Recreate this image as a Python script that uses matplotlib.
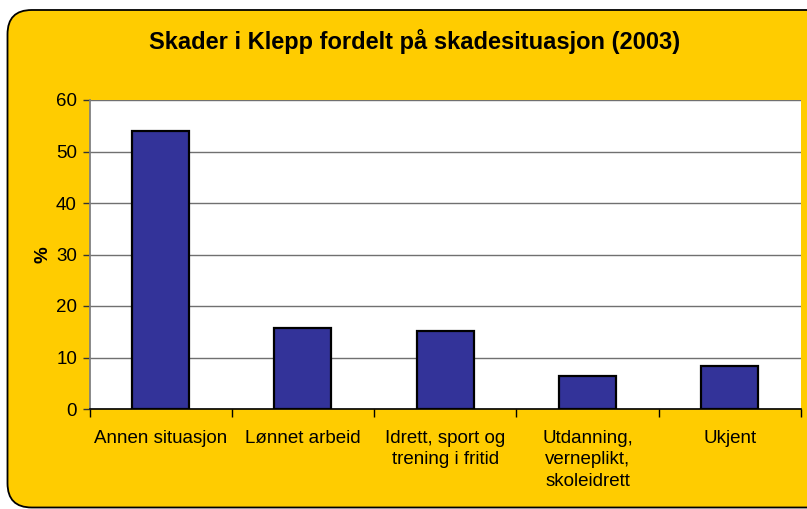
import matplotlib
matplotlib.use("Agg")
import matplotlib.pyplot as plt
from matplotlib.patches import FancyBboxPatch
import numpy as np

# data
categories = ["Annen situasjon", "Lønnet arbeid", "Idrett, sport og\ntrening i fritid",
              "Utdanning,\nverneplikt,\nskoleidrett", "Ukjent"]
values = [54.0, 15.7, 15.2, 6.4, 8.4]
yticks = [0, 10, 20, 30, 40, 50, 60]

plt.rcParams["font.family"] = ["Liberation Sans", "DejaVu Sans"]

W, H = 807, 509
fig = plt.figure(figsize=(W / 100, H / 100), dpi=100)
fig.patch.set_facecolor("white")

# rounded yellow frame, runs off the right edge
frame = FancyBboxPatch((7.5 / W, 1.5 / H), 850 / W, 497.5 / H,
                       boxstyle="round,pad=0,rounding_size=0.03",
                       transform=fig.transFigure, facecolor="#FFCC00",
                       edgecolor="black", linewidth=1.3, zorder=-10,
                       mutation_aspect=W / H)
fig.patches.append(frame)

ax = fig.add_axes([89.5 / W, 1 - 409 / H, (801 - 89.5) / W, (409 - 100) / H])
ax.set_zorder(1)
ax.set_facecolor("white")

x = np.arange(len(categories))
ax.bar(x, values, width=0.4, color="#333399", edgecolor="black", linewidth=1.6, zorder=3)

ax.set_xlim(-0.5, len(categories) - 0.5)
ax.set_ylim(0, 60)
ax.set_yticks(yticks)
ax.tick_params(axis="y", labelsize=13.5, length=5, width=1, color="#333333", pad=4)
ax.set_xticks(x)
ax.set_xticklabels(categories, fontsize=13.5, linespacing=1.35)
ax.tick_params(axis="x", which="major", length=0, pad=15)
ax.set_xticks(np.arange(-0.5, len(categories), 1), minor=True)
ax.tick_params(axis="x", which="minor", length=6, width=1, color="black")

ax.yaxis.grid(True, color="#707070", linewidth=1, zorder=1)
ax.set_axisbelow(True)
for s in ["top", "right"]:
    ax.spines[s].set_visible(False)
ax.spines["left"].set_color("#808080")
ax.spines["left"].set_linewidth(1.3)
ax.spines["bottom"].set_color("black")
ax.spines["bottom"].set_linewidth(1.2)

ax.set_ylabel("%", fontsize=13.5, fontweight="bold", labelpad=3)

fig.text(414.5 / W, 1 - 42 / H, "Skader i Klepp fordelt på skadesituasjon (2003)",
         ha="center", va="center", fontsize=17, fontweight="bold")

fig.savefig("out.png", dpi=100)
plt.close(fig)
